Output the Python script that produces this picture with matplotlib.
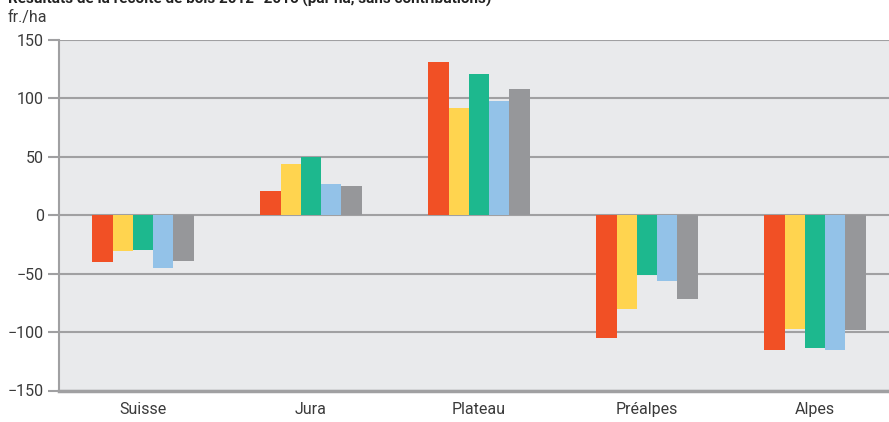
import matplotlib
matplotlib.use("Agg")
import matplotlib.pyplot as plt
import numpy as np

plt.rcParams["font.family"] = ["Roboto", "DejaVu Sans"]

# Résultats de la récolte de bois 2012-2016, fr./ha
regions = ["Suisse", "Jura", "Plateau", "Préalpes", "Alpes"]
y2012 = [-40, 21, 131, -105, -115]
y2013 = [-31, 44, 92, -80, -97]
y2014 = [-30, 50, 121, -51, -114]
y2015 = [-45, 27, 98, -56, -115]
y2016 = [-39, 25, 108, -72, -98]
series = [y2012, y2013, y2014, y2015, y2016]
colors = ["#f15025", "#ffd44f", "#1db88e", "#93c2e8", "#96979a"]
yticks = [-150, -100, -50, 0, 50, 100, 150]

W, H = 889, 422
fig = plt.figure(figsize=(W / 100, H / 100), dpi=100)
# axes run slightly past the right edge, as in the original crop
ax = fig.add_axes([59 / W, 1 - 390.5 / H, 840 / W, 350.5 / H])
ax.set_facecolor("#e9eaec")

x = np.arange(len(regions))
bw = 0.121
for k, (vals, c) in enumerate(zip(series, colors)):
    ax.bar(x + (k - 2) * bw, vals, width=bw, color=c, zorder=3, linewidth=0)

ax.set_xlim(-0.5, len(regions) - 0.5)
ax.set_ylim(-150, 150)
ax.set_yticks(yticks)
ax.set_yticklabels([str(v).replace("-", "\u2212") for v in yticks])
ax.set_xticks(x)
ax.set_xticklabels(regions)
ax.yaxis.grid(True, color="#a0a0a2", linewidth=1.5, zorder=1)
ax.tick_params(axis="y", length=8, width=1.5, color="#a0a0a2",
               labelsize=11.5, labelcolor="#3a3a3a", pad=3)
ax.tick_params(axis="x", length=0, labelsize=11.5, labelcolor="#3a3a3a", pad=8)
for s in ["top", "right"]:
    ax.spines[s].set_visible(False)
ax.spines["left"].set_color("#a0a0a2")
ax.spines["left"].set_linewidth(1.5)
ax.spines["bottom"].set_color("#a0a0a2")
ax.spines["bottom"].set_linewidth(2.5)

fig.text(8 / W, 1 - 4 / H,
         "Résultats de la récolte de bois 2012\u20132016 (par ha, sans contributions)",
         fontsize=11, fontweight="bold", color="#222222", va="baseline")
fig.text(8 / W, 1 - 22 / H, "fr./ha", fontsize=11.5, color="#3a3a3a",
         va="baseline")

fig.savefig("out.png", dpi=100, facecolor="white")
